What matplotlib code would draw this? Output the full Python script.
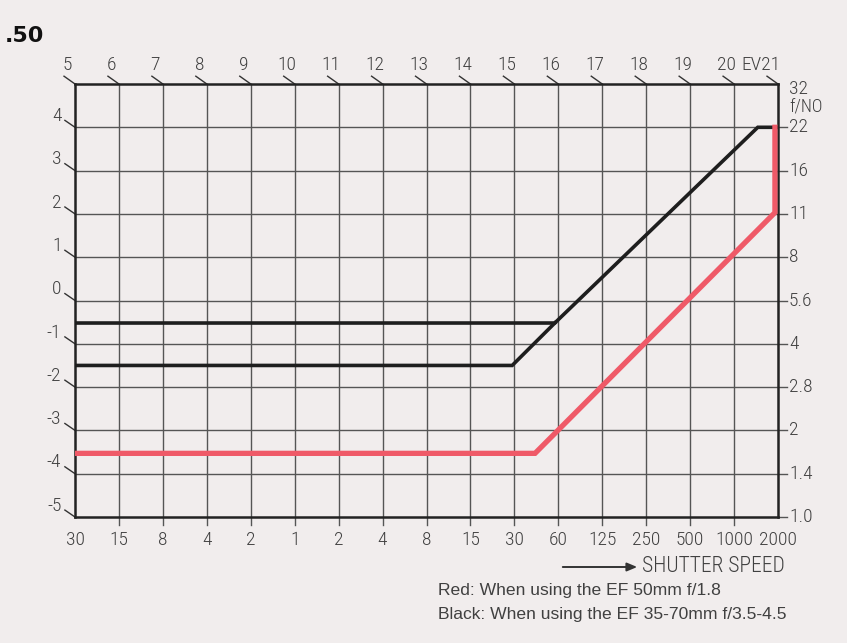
import matplotlib
matplotlib.use('Agg')
import matplotlib.pyplot as plt
from matplotlib import font_manager as fm
import numpy as np

# columns 0..16 are shutter speeds, rows 0..10 are aperture stops
shutter_labels = ['30', '15', '8', '4', '2', '1', '2', '4', '8', '15', '30',
                  '60', '125', '250', '500', '1000', '2000']
ev_top = list(range(5, 22))
ev_left = [-5, -4, -3, -2, -1, 0, 1, 2, 3, 4]
fno_labels = ['1.0', '1.4', '2', '2.8', '4', '5.6', '8', '11', '16', '22']

# program lines (column, stop)
black_hi_x = [0, 10.92, 15.54, 16]
black_hi_y = [4.48, 4.48, 9.0, 9.0]
black_lo_x = [0, 9.95, 10.92]
black_lo_y = [3.5, 3.5, 4.48]
red_x = [0, 10.47, 15.93, 15.93]
red_y = [1.47, 1.47, 7.03, 9.0]

# pick a narrow face if one is around
names = {f.name for f in fm.fontManager.ttflist}
narrow = ['DejaVu Sans']
for n in ['Roboto Condensed', 'Liberation Sans Narrow', 'Archivo Narrow']:
    if n in names:
        narrow = [n, 'DejaVu Sans']
        break

txt = '#404040'
bg = '#f1eded'

fig = plt.figure(figsize=(8.47, 6.43), dpi=100, facecolor=bg)
ax = fig.add_axes([75 / 847, 1 - 517 / 643, 703 / 847, 433 / 643])
ax.set_facecolor(bg)
ax.set_xlim(0, 16)
ax.set_ylim(0, 10)
ax.set_xticks([])
ax.set_yticks([])
for s in ax.spines.values():
    s.set_linewidth(1.8)
    s.set_color('#222222')

lab = dict(family=narrow, weight='light', color=txt, fontsize=14)

# grid
for c in range(1, 16):
    ax.plot([c, c], [-0.18, 10], color='#555555', lw=1.0, clip_on=False, zorder=1)
for a in range(1, 10):
    ax.plot([0, 16], [a, a], color='#555555', lw=1.0, zorder=1)
for a in range(0, 10):
    ax.plot([16, 16.2], [a, a], color='#555555', lw=1.0, clip_on=False, zorder=1)

# program lines
ax.plot(black_hi_x, black_hi_y, color='#1e1e1e', lw=2.6, solid_joinstyle='miter', zorder=3)
ax.plot(black_lo_x, black_lo_y, color='#1e1e1e', lw=2.6, solid_joinstyle='miter', zorder=3)
ax.plot(red_x, red_y, color='#ef5a68', lw=3.8, solid_joinstyle='miter', zorder=4)

# top EV labels with slashes
for c, ev in enumerate(ev_top):
    ax.plot([c - 0.25, c], [10.18, 10], color='#333333', lw=1.0, clip_on=False)
    if ev == 21:
        ax.text(c + 0.05, 10.44, 'EV21', ha='right', va='center', **lab)
    else:
        ax.text(c - 0.17, 10.44, str(ev), ha='center', va='center', **lab)

# left EV labels
for a, ev in enumerate(ev_left):
    ax.plot([-0.23, 0], [a + 0.16, a], color='#333333', lw=1.0, clip_on=False)
    ax.text(-0.31, a + 0.26, str(ev), ha='right', va='center', **lab)

# right f-number labels
for a, f in enumerate(fno_labels):
    ax.text(16.25, a, f, ha='left', va='center', **lab)
ax.text(16.25, 9.88, '32', ha='left', va='center', **lab)
ax.text(16.25, 9.45, 'f/NO', ha='left', va='center', **dict(lab, fontsize=13))

# bottom shutter labels
for c, s in enumerate(shutter_labels):
    ax.text(c, -0.53, s, ha='center', va='center', **lab)

fig.text(5 / 847, 1 - 36 / 643, '.50', ha='left', va='center', fontsize=16,
         fontweight='heavy', family='DejaVu Sans', color='#111111')

fig.text(642 / 847, 1 - 566 / 643, 'SHUTTER SPEED', ha='left', va='center',
         **dict(lab, fontsize=15.5))
fig.add_artist(matplotlib.patches.FancyArrowPatch(
    (560 / 847, 1 - 567 / 643), (640 / 847, 1 - 567 / 643),
    transform=fig.transFigure, arrowstyle='-|>,head_length=6,head_width=2.5',
    color='#333333', lw=1.4, mutation_scale=1))

fig.text(438 / 847, 1 - 590 / 643, 'Red: When using the EF 50mm f/1.8', ha='left',
         va='center', fontsize=12.6, family='Liberation Sans', color=txt)
fig.text(438 / 847, 1 - 615 / 643, 'Black: When using the EF 35-70mm f/3.5-4.5',
         ha='left', va='center', fontsize=12.6, family='Liberation Sans', color=txt)

fig.savefig('out.png', dpi=100, facecolor=bg)
